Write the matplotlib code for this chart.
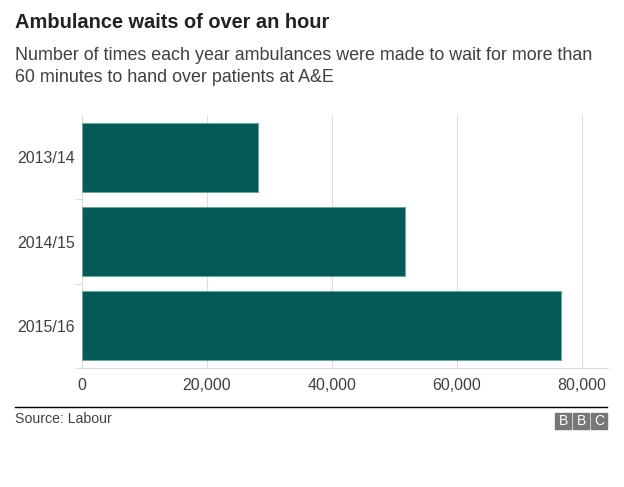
import matplotlib.pyplot as plt
from matplotlib.patches import Rectangle
from matplotlib.ticker import FuncFormatter, FixedLocator

plt.rcParams['font.family'] = ['Liberation Sans', 'DejaVu Sans']

years = ["2013/14", "2014/15", "2015/16"]
waits = [28100, 51700, 76600]
xticks = [0, 20000, 40000, 60000, 80000]

TEAL = "#035956"
TEXT = "#404040"

fig = plt.figure(figsize=(6.24, 4.87), dpi=100)
W, H = 624, 487

# plot area in pixel coords -> figure fractions
left, right, top, bottom = 82, 608, 115, 368
ax = fig.add_axes([left / W, 1 - bottom / H, (right - left) / W, (bottom - top) / H])

pos = list(range(len(years)))
ax.barh(pos, waits, height=0.82, color=TEAL, edgecolor="#6fa3a1", linewidth=0.8, zorder=3)
ax.set_ylim(len(years) - 0.5, -0.5)
ax.set_xlim(0, 84200)

ax.set_xticks(xticks)
ax.xaxis.set_major_formatter(FuncFormatter(lambda v, p: f"{int(v):,}"))
ax.grid(axis="x", color="#dddddd", linewidth=0.8, zorder=0)
ax.tick_params(axis="x", length=0, pad=7, labelsize=11.5, labelcolor=TEXT)

ax.set_yticks(pos)
ax.set_yticklabels(years)
ax.tick_params(axis="y", which="major", length=0, pad=5, labelsize=11.5, labelcolor=TEXT)
ax.yaxis.set_minor_locator(FixedLocator([0.5, 1.5, 2.5]))
ax.tick_params(axis="y", which="minor", length=4, color="#dddddd", width=0.8)

for s in ["top", "right", "left"]:
    ax.spines[s].set_visible(False)
ax.spines["bottom"].set_color("#dddddd")
ax.spines["bottom"].set_linewidth(0.8)

# titles
fig.text(15 / W, 1 - 22 / H, "Ambulance waits of over an hour", fontsize=14.4,
         fontweight="bold", color="#222222", va="center", ha="left")
fig.text(15 / W, 1 - 55 / H, "Number of times each year ambulances were made to wait for more than",
         fontsize=12.9, color=TEXT, va="center", ha="left")
fig.text(15 / W, 1 - 77 / H, "60 minutes to hand over patients at A&E",
         fontsize=12.9, color=TEXT, va="center", ha="left")

# footer
fig.add_artist(plt.Line2D([15 / W, 607 / W], [1 - 407 / H, 1 - 407 / H], color="black", linewidth=1))
fig.text(15 / W, 1 - 419 / H, "Source: Labour", fontsize=10.2, color=TEXT, va="center", ha="left")
for i, letter in enumerate("BBC"):
    x0 = 555 + i * 18
    fig.add_artist(Rectangle((x0 / W, 1 - 429 / H), 16 / W, 16 / H, color="#777777",
                             transform=fig.transFigure))
    fig.text((x0 + 8) / W, 1 - 421 / H, letter, fontsize=10, color="white",
             ha="center", va="center")

fig.savefig("out.png", dpi=100)
